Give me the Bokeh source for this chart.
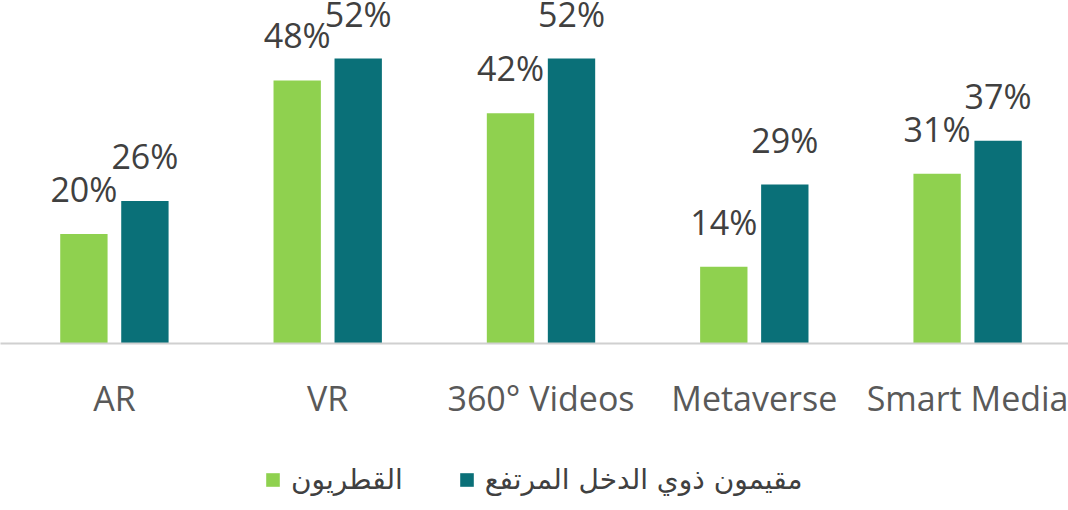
from bokeh.plotting import figure
from bokeh.models import (ColumnDataSource, Range1d, FixedTicker, LabelSet,
                          Legend, LegendItem)
from bokeh.layouts import column
from bokeh.core.properties import value
from bokeh.embed import file_html
from bokeh.resources import INLINE

categories = ["AR", "VR", "360° Videos", "Metaverse", "Smart Media"]
qataris = [20, 48, 42, 14, 31]
residents = [26, 52, 52, 29, 37]
series_names = ["القطريون", "مقيمون ذوي الدخل المرتفع"]
colors = ["#8FD14F", "#0A7078"]

idx = list(range(len(categories)))
off = 0.143
bw = 0.222

src_q = ColumnDataSource(dict(x=[i - off for i in idx], top=qataris,
                              lbl=[f"{v}%" for v in qataris]))
src_r = ColumnDataSource(dict(x=[i + off for i in idx], top=residents,
                              lbl=[f"{v}%" for v in residents]))

p = figure(width=1068, height=430, x_range=Range1d(-0.534, 4.473),
           y_range=Range1d(0, 62.6), output_backend="svg",
           toolbar_location=None, min_border_left=0, min_border_right=0,
           min_border_top=0, min_border_bottom=87)
p.yaxis.visible = False
p.grid.visible = False
p.outline_line_color = None
p.background_fill_color = "white"
p.border_fill_color = "white"

p.vbar(x="x", top="top", bottom=0, width=bw, source=src_q,
       fill_color=colors[0], line_color=None)
p.vbar(x="x", top="top", bottom=0, width=bw, source=src_r,
       fill_color=colors[1], line_color=None)

for s in (src_q, src_r):
    p.add_layout(LabelSet(x="x", y="top", text="lbl", source=s,
                          text_align="center", text_baseline="alphabetic",
                          y_offset=32, text_font=value("Open Sans"),
                          text_font_size="34px", text_color="#404040"))

ax = p.xaxis[0]
ax.ticker = FixedTicker(ticks=idx)
ax.major_label_overrides = {i: c for i, c in zip(idx, categories)}
ax.major_tick_line_color = None
ax.minor_tick_line_color = None
ax.axis_line_color = "#D0D0D0"
ax.axis_line_width = 2
ax.major_label_standoff = 25
ax.major_label_text_font = "Open Sans"
ax.major_label_text_font_size = "34px"
ax.major_label_text_color = "#595959"

# legend strip below the chart
lg = figure(width=1068, height=80, x_range=Range1d(-0.534, 4.473),
            y_range=Range1d(1000, 1001), output_backend="svg",
            toolbar_location=None, min_border_left=0, min_border_right=0,
            min_border_top=0, min_border_bottom=0)
lg.axis.visible = False
lg.grid.visible = False
lg.outline_line_color = None
lg.border_fill_color = "white"
g1 = lg.vbar(x="x", top="top", bottom=0, width=bw, source=src_q,
             fill_color=colors[0], line_color=None)
g2 = lg.vbar(x="x", top="top", bottom=0, width=bw, source=src_r,
             fill_color=colors[1], line_color=None)

legend = Legend(items=[LegendItem(label=series_names[0], renderers=[g1]),
                       LegendItem(label=series_names[1], renderers=[g2])],
                orientation="horizontal", location=(264, 14),
                label_text_font="DejaVu Sans", label_text_font_size="28px",
                label_text_color="#404040", glyph_width=17, glyph_height=17,
                label_standoff=10, spacing=55, border_line_color=None,
                background_fill_alpha=0, padding=0, margin=0)
lg.add_layout(legend, "center")

layout = column(p, lg, spacing=0)
open("out.html", "w").write(file_html(layout, INLINE))
